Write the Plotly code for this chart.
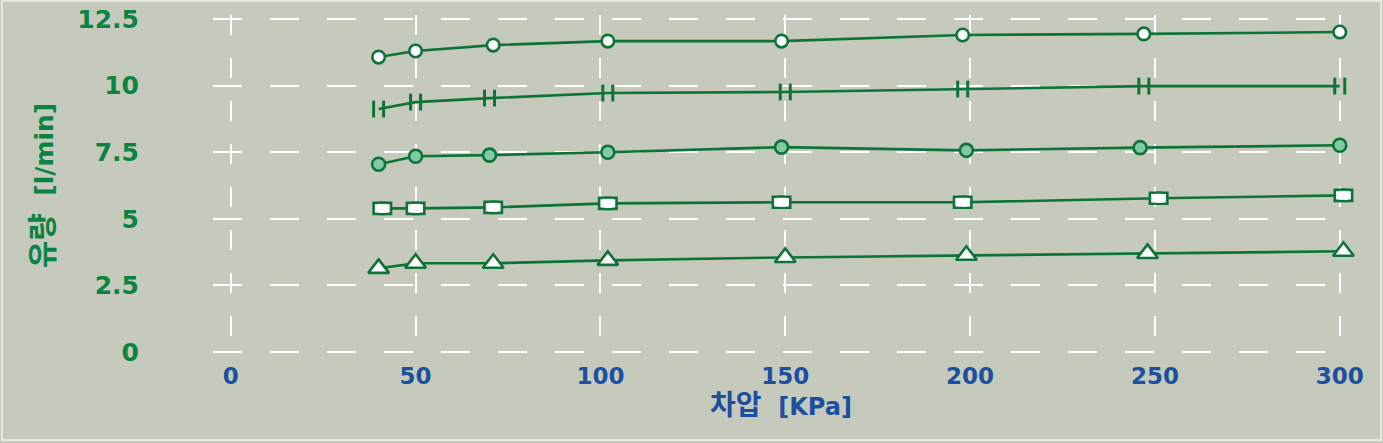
import plotly.graph_objects as go

# ---- data ----
x_ticks = [0, 50, 100, 150, 200, 250, 300]
y_ticks = [0, 2.5, 5, 7.5, 10, 12.5]
y_tick_text = ["0", "2.5", "5", "7.5", "10", "12.5"]

s1_x = [40, 50, 71, 102, 149, 198, 247, 300]
s1_y = [11.07, 11.30, 11.52, 11.67, 11.67, 11.90, 11.94, 12.01]

s2_x = [40, 50, 70, 102, 150, 198, 247, 300]
s2_y = [9.12, 9.38, 9.53, 9.72, 9.76, 9.87, 9.98, 9.98]

s3_x = [40, 50, 70, 102, 149, 199, 246, 300]
s3_y = [7.05, 7.35, 7.39, 7.50, 7.69, 7.57, 7.67, 7.76]

s4_x = [41, 50, 71, 102, 149, 198, 251, 301]
s4_y = [5.39, 5.39, 5.43, 5.58, 5.62, 5.62, 5.77, 5.88]

s5_x = [40, 50, 71, 102, 150, 199, 248, 301]
s5_y = [3.14, 3.33, 3.33, 3.44, 3.55, 3.63, 3.70, 3.78]

# ---- styling ----
W, H = 1383, 443
ML, MR, MT, MB = 213, 34, 15, 87
XR = [-4.8, 302.5]
YR = [-0.15, 12.65]
BG = "#C5CABD"
GREEN = "#0D7339"
TXT_GREEN = "#0B8442"
TXT_BLUE = "#1B4FA0"
LIGHT = "#80CBA6"
FONT = "DejaVu Sans, Noto Sans CJK KR, sans-serif"
LW = 2.6

plot_w = W - ML - MR
upx = (XR[1] - XR[0]) / plot_w  # data units per pixel


def shifted(px):
    """x-range of an overlay axis that displaces markers by px pixels."""
    return [XR[0] - px * upx, XR[1] - px * upx]


fig = go.Figure()

# connecting lines
for xs, ys in [(s1_x, s1_y), (s2_x, s2_y), (s3_x, s3_y), (s4_x, s4_y), (s5_x, s5_y)]:
    fig.add_trace(go.Scatter(x=xs, y=ys, mode="lines", line=dict(color=GREEN, width=LW),
                             hoverinfo="skip", showlegend=False, cliponaxis=False))

# series 1: open circles
fig.add_trace(go.Scatter(x=s1_x, y=s1_y, mode="markers", cliponaxis=False, showlegend=False,
                         marker=dict(symbol="circle", size=12.5, color="white",
                                     line=dict(color=GREEN, width=2.6))))

# series 3: light-green filled circles
fig.add_trace(go.Scatter(x=s3_x, y=s3_y, mode="markers", cliponaxis=False, showlegend=False,
                         marker=dict(symbol="circle", size=13, color=LIGHT,
                                     line=dict(color=GREEN, width=2.6))))

# series 5: open triangles
fig.add_trace(go.Scatter(x=s5_x, y=s5_y, mode="markers", cliponaxis=False, showlegend=False,
                         marker=dict(symbol="triangle-up", size=18, color="white",
                                     line=dict(color=GREEN, width=2.6))))

# series 2: double vertical ticks (two overlay axes shifted by a few pixels)
for ax in ["x2", "x3"]:
    fig.add_trace(go.Scatter(x=s2_x, y=s2_y, xaxis=ax, mode="markers", cliponaxis=False,
                             showlegend=False,
                             marker=dict(symbol="line-ns", size=12, color=GREEN,
                                         line=dict(color=GREEN, width=3))))

# series 4: open rectangles (two shifted squares + centred white cover)
for ax in ["x4", "x5"]:
    fig.add_trace(go.Scatter(x=s4_x, y=s4_y, xaxis=ax, mode="markers", cliponaxis=False,
                             showlegend=False,
                             marker=dict(symbol="square", size=11, color="white",
                                         line=dict(color=GREEN, width=2.6))))
fig.add_trace(go.Scatter(x=s4_x, y=s4_y, xaxis="x6", mode="markers", cliponaxis=False,
                         showlegend=False,
                         marker=dict(symbol="square", size=9, color="white",
                                     line=dict(width=0))))

hidden = dict(visible=False, overlaying="x", showgrid=False, zeroline=False)

fig.update_layout(
    width=W, height=H,
    margin=dict(l=ML, r=MR, t=MT, b=MB, pad=0, autoexpand=False),
    paper_bgcolor=BG, plot_bgcolor=BG,
    font=dict(family=FONT),
    xaxis=dict(
        range=XR, tickvals=x_ticks, ticktext=[str(v) for v in x_ticks],
        showgrid=True, gridcolor="white", gridwidth=2, griddash="20px,23px",
        zeroline=False, showline=False, ticks="", automargin=False,
        tickfont=dict(color=TXT_BLUE, size=23, family=FONT, weight="bold"),
        ticklabelstandoff=4,
        title=dict(text='<span style="font-size:28px">차압</span>\u00a0\u00a0[KPa]',
                   font=dict(color=TXT_BLUE, size=24, family=FONT, weight="bold"),
                   standoff=10),
    ),
    xaxis2=dict(range=shifted(-5), **hidden),
    xaxis3=dict(range=shifted(5), **hidden),
    xaxis4=dict(range=shifted(-3.2), **hidden),
    xaxis5=dict(range=shifted(3.2), **hidden),
    xaxis6=dict(range=shifted(0), **hidden),
    yaxis=dict(
        range=YR, tickvals=y_ticks, ticktext=y_tick_text,
        showgrid=True, gridcolor="white", gridwidth=2, griddash="29px,28px",
        zeroline=False, showline=False, ticks="", automargin=False,
        tickfont=dict(color=TXT_GREEN, size=25, family=FONT, weight="bold"),
        ticklabelstandoff=73,
        title=dict(text='<span style="font-size:30px">유량</span>\u00a0\u00a0[l/min]',
                   font=dict(color=TXT_GREEN, size=25, family=FONT, weight="bold"),
                   standoff=16),
    ),
)

# thin light frame around the whole picture
pw, ph = plot_w, H - MT - MB
fig.add_shape(type="rect", xref="paper", yref="paper", layer="below",
              x0=-(ML - 2) / pw, x1=1 + (MR - 2) / pw,
              y0=-(MB - 3) / ph, y1=1 + (MT - 1) / ph,
              line=dict(color="#E6E8E1", width=2), fillcolor="rgba(0,0,0,0)")

fig.write_html("out.html", config={"displayModeBar": False},
               post_script="document.body.style.margin='0';")
